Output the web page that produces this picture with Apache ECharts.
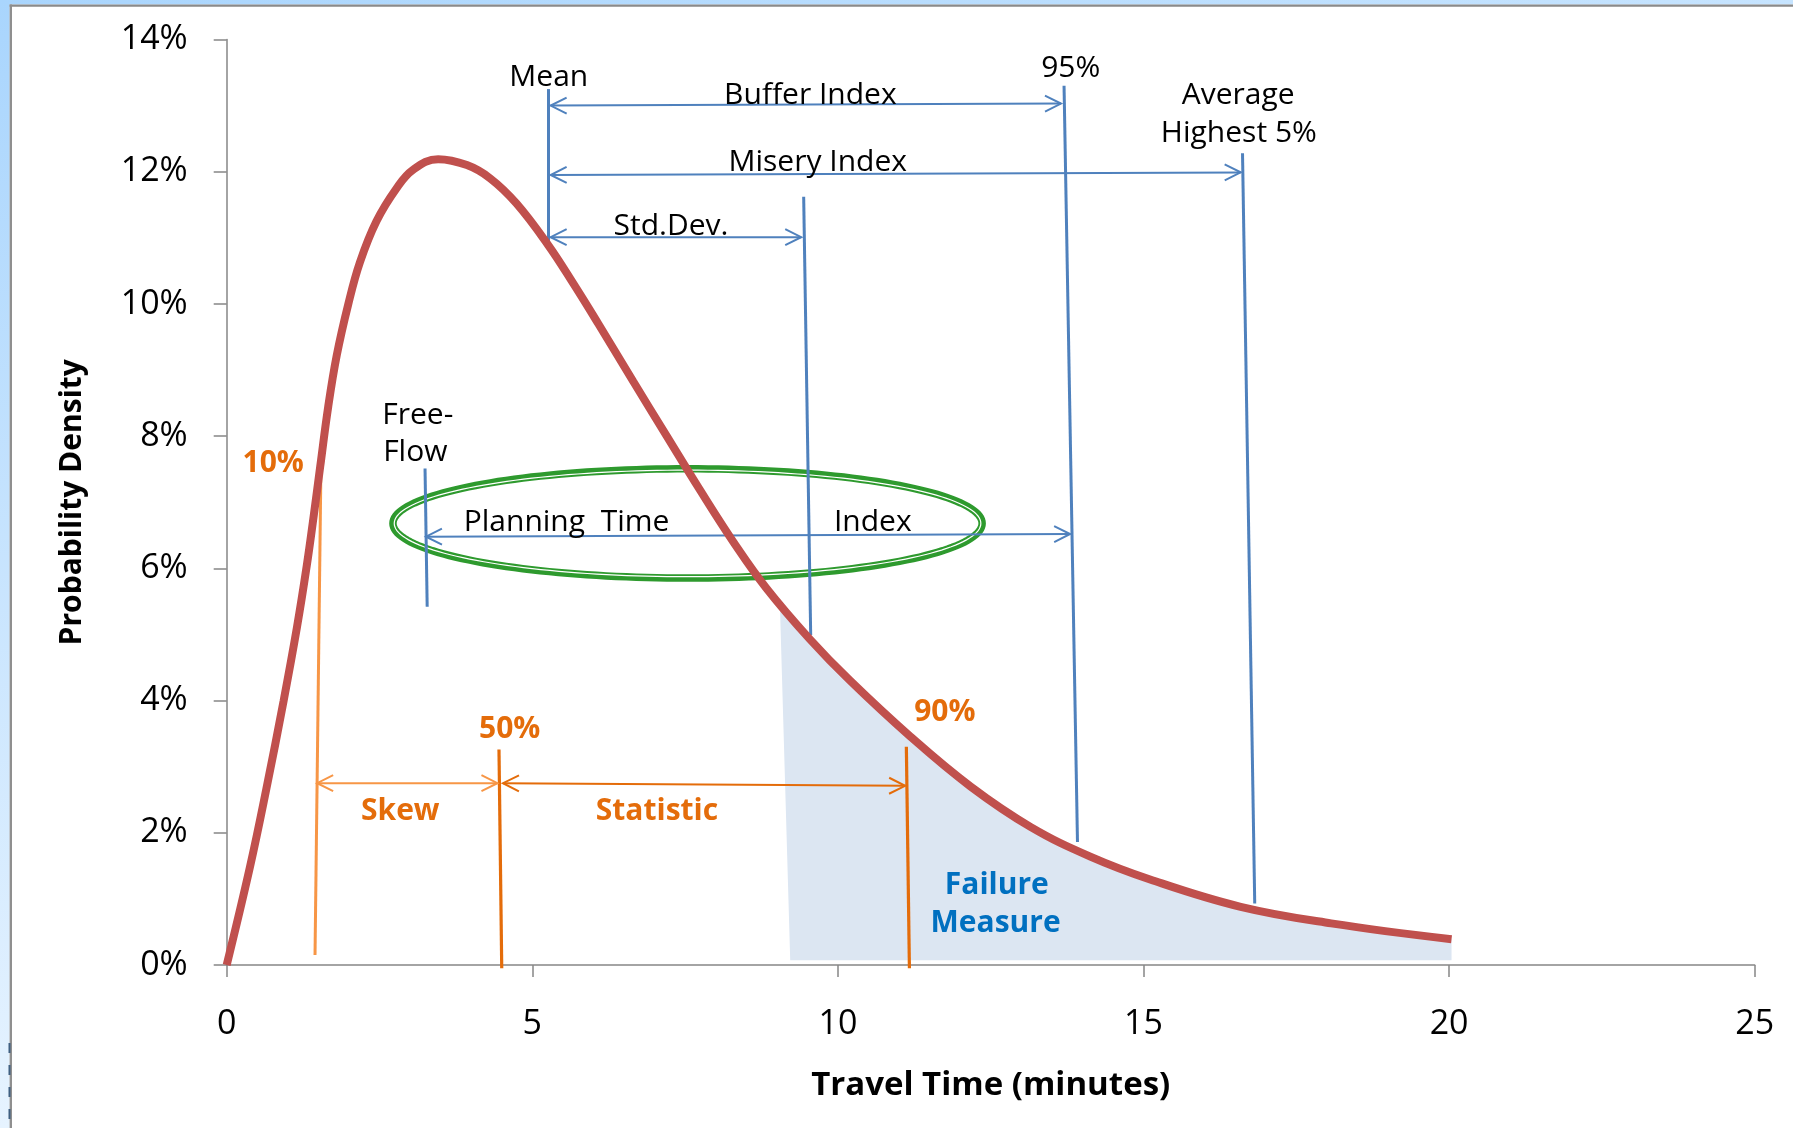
<!DOCTYPE html>
<html>
<head>
<meta charset="utf-8">
<script src="https://cdn.jsdelivr.net/npm/echarts@6/dist/echarts.min.js"></script>
<style>
html, body { margin: 0; padding: 0; background: #fff; }
#chart { width: 1793px; height: 1128px; }
</style>
</head>
<body>
<div id="chart"></div>
<script>
// travel time (minutes) / probability density (%)
const curveX = [0.00, 0.38, 0.65, 0.93, 1.15, 1.31, 1.42, 1.53, 1.66, 1.80, 1.99, 2.18, 2.45, 2.78, 3.05, 3.46,
    3.93, 4.31, 4.74, 5.26, 5.67, 6.08, 6.65, 7.20, 7.74, 8.29, 8.83, 9.54, 10.20, 11.18, 12.17,
    13.15, 14.13, 15.12, 16.59, 18.07, 20.04];
const curveY = [0.00, 1.48, 2.67, 3.99, 5.11, 6.04, 6.77, 7.54, 8.44, 9.22, 10.00, 10.63, 11.25, 11.75, 12.03, 12.19,
    12.10, 11.90, 11.52, 10.89, 10.31, 9.70, 8.83, 8.00, 7.19, 6.40, 5.70, 4.93, 4.30, 3.46, 2.70,
    2.09, 1.64, 1.29, 0.88, 0.63, 0.39];

// failure measure area: top edge along the tail, then the two bottom corners
const failureX = [9.05, 9.54, 10.20, 11.18, 12.17, 13.15, 14.13, 15.12, 16.59, 18.07, 20.04, 20.04, 9.22];
const failureY = [5.48, 4.93, 4.30, 3.46, 2.70, 2.09, 1.64, 1.29, 0.88, 0.63, 0.39, 0.07, 0.07];

// vertical marker lines [x1, y1, x2, y2]
const blueMarkers = [
    [5.265, 13.25, 5.265, 10.82],   // mean
    [9.44, 11.62, 9.555, 4.99],     // std dev
    [13.70, 13.30, 13.92, 1.86],    // 95%
    [16.62, 12.28, 16.82, 0.93],    // average highest 5%
    [3.245, 7.51, 3.28, 5.42]       // free-flow
];
const lightOrangeMarkers = [
    [1.54, 7.41, 1.445, 0.15]       // 10%
];
const orangeMarkers = [
    [4.455, 3.26, 4.50, -0.05],     // 50%
    [11.12, 3.30, 11.17, -0.05]     // 90%
];

// double headed arrows [x1, y1, x2, y2]
const blueArrows = [
    [5.30, 13.00, 13.65, 13.03],    // buffer index
    [5.30, 11.95, 16.59, 11.99],    // misery index
    [5.30, 11.01, 9.40, 11.01],     // std dev
    [3.26, 6.48, 13.80, 6.52]       // planning time index
];
const lightOrangeArrows = [
    [1.48, 2.75, 4.43, 2.75]        // skew
];
const orangeArrows = [
    [4.52, 2.75, 11.10, 2.71]       // statistic
];

// planning time index ellipse [cx, cy, rx, ry]
const planningEllipse = [7.54, 6.68, 4.82, 0.826];

// annotation texts [x, y, text]
const blackLabels = [
    [5.27, 13.43, 'Mean'],
    [9.55, 13.15, 'Buffer Index'],
    [13.81, 13.56, '95%'],
    [16.55, 13.15, 'Average'],
    [16.56, 12.58, 'Highest 5%'],
    [9.67, 12.14, 'Misery Index'],
    [7.27, 11.17, 'Std.Dev.'],
    [3.127, 8.32, 'Free-'],
    [3.086, 7.75, 'Flow'],
    [5.56, 6.69, 'Planning  Time'],
    [10.57, 6.69, 'Index']
];
const orangeLabels = [
    [0.76, 7.59, '10%'],
    [4.63, 3.56, '50%'],
    [11.75, 3.82, '90%'],
    [2.84, 2.33, 'Skew'],
    [7.04, 2.33, 'Statistic']
];
const blueLabels = [
    [12.60, 1.21, 'Failure'],
    [12.58, 0.635, 'Measure']
];

const FONT = '"Open Sans", "Noto Sans", sans-serif';

function segmentSeries(items, color, width, z) {
    return {
        type: 'custom',
        data: items,
        clip: false,
        silent: true,
        z: z,
        encode: { x: [0, 2], y: [1, 3] },
        renderItem: function (params, api) {
            const a = api.coord([api.value(0), api.value(1)]);
            const b = api.coord([api.value(2), api.value(3)]);
            return {
                type: 'line',
                shape: { x1: a[0], y1: a[1], x2: b[0], y2: b[1] },
                style: { stroke: color, lineWidth: width }
            };
        }
    };
}

function arrowSeries(items, color, width, z) {
    return {
        type: 'custom',
        data: items,
        clip: false,
        silent: true,
        z: z,
        encode: { x: [0, 2], y: [1, 3] },
        renderItem: function (params, api) {
            const a = api.coord([api.value(0), api.value(1)]);
            const b = api.coord([api.value(2), api.value(3)]);
            const ang = Math.atan2(b[1] - a[1], b[0] - a[0]);
            const head = function (p, dir) {
                const L = 16, H = 8, c = Math.cos(dir), s = Math.sin(dir);
                return [[p[0] + L * c - H * s, p[1] + L * s + H * c], p, [p[0] + L * c + H * s, p[1] + L * s - H * c]];
            };
            const st = { stroke: color, lineWidth: width, fill: null };
            return {
                type: 'group',
                children: [
                    { type: 'line', shape: { x1: a[0], y1: a[1], x2: b[0], y2: b[1] }, style: st },
                    { type: 'polyline', shape: { points: head(a, ang) }, style: st },
                    { type: 'polyline', shape: { points: head(b, ang + Math.PI) }, style: st }
                ]
            };
        }
    };
}

function labelSeries(items, color, weight, size) {
    return {
        type: 'custom',
        data: items.map(d => [d[0], d[1]]),
        clip: false,
        silent: true,
        z: 10,
        renderItem: function (params, api) {
            const p = api.coord([api.value(0), api.value(1)]);
            return {
                type: 'text',
                x: p[0],
                y: p[1],
                style: {
                    text: items[params.dataIndex][2],
                    fill: color,
                    fontFamily: FONT,
                    fontSize: size,
                    fontWeight: weight,
                    align: 'center',
                    verticalAlign: 'middle'
                }
            };
        }
    };
}

const chart = echarts.init(document.getElementById('chart'));

const option = {
    animation: false,
    backgroundColor: '#ffffff',
    grid: { left: 226.7, right: 38.3, top: 39.5, bottom: 163, outerBoundsMode: 'none' },
    xAxis: {
        type: 'value',
        min: 0,
        max: 25,
        interval: 5,
        name: 'Travel Time (minutes)',
        nameLocation: 'middle',
        nameGap: 104,
        nameTextStyle: { fontFamily: FONT, fontSize: 33, fontWeight: 'bold', color: '#000' },
        axisLine: { show: true, lineStyle: { color: '#868686', width: 1.5 } },
        axisTick: { show: true, length: 12, lineStyle: { color: '#868686', width: 1.5 } },
        axisLabel: { fontFamily: FONT, fontSize: 34, color: '#000', margin: 42 },
        splitLine: { show: false }
    },
    yAxis: {
        type: 'value',
        min: 0,
        max: 14,
        interval: 2,
        name: 'Probability Density',
        nameLocation: 'middle',
        nameGap: 139,
        nameTextStyle: { fontFamily: FONT, fontSize: 30, fontWeight: 'bold', color: '#000' },
        axisLine: { show: true, lineStyle: { color: '#868686', width: 1.5 } },
        axisTick: { show: true, length: 13, lineStyle: { color: '#868686', width: 1.5 } },
        axisLabel: { fontFamily: FONT, fontSize: 34, color: '#000', margin: 39, formatter: '{value}%' },
        splitLine: { show: false }
    },
    graphic: [
        {
            type: 'rect', z: 100, silent: true,
            shape: { x: 0, y: 0, width: 1793, height: 4.5 },
            style: { fill: { type: 'linear', x: 0, y: 0, x2: 1, y2: 0, colorStops: [{ offset: 0, color: '#a9d5fd' }, { offset: 1, color: '#c6e4ff' }] } }
        },
        {
            type: 'rect', z: 100, silent: true,
            shape: { x: 0, y: 0, width: 9.6, height: 1128 },
            style: { fill: { type: 'linear', x: 0, y: 0, x2: 0, y2: 1, colorStops: [{ offset: 0, color: '#a9d5fd' }, { offset: 1, color: '#e6f3ff' }] } }
        },
        { type: 'rect', z: 100, silent: true, shape: { x: 9.6, y: 4.5, width: 1784, height: 2.2 }, style: { fill: '#8a8a8a' } },
        { type: 'rect', z: 100, silent: true, shape: { x: 9.6, y: 4.5, width: 2.4, height: 1124 }, style: { fill: '#8f8f8f' } },
        {
            type: 'line', z: 100, silent: true,
            shape: { x1: 9.5, y1: 1043, x2: 9.5, y2: 1128 },
            style: { stroke: '#3f5f80', lineWidth: 2, lineDash: [10, 12] }
        }
    ],
    series: [
        {
            type: 'custom',
            data: [[failureX[0], failureY[0]]],
            clip: false,
            silent: true,
            z: 1,
            renderItem: function (params, api) {
                const pts = failureX.map((x, i) => api.coord([x, failureY[i]]));
                return { type: 'polygon', shape: { points: pts }, style: { fill: '#dce6f2' } };
            }
        },
        {
            type: 'custom',
            data: [planningEllipse],
            clip: false,
            silent: true,
            z: 2,
            renderItem: function (params, api) {
                const c = api.coord([api.value(0), api.value(1)]);
                const ex = api.coord([api.value(0) + api.value(2), api.value(1)]);
                const ey = api.coord([api.value(0), api.value(1) + api.value(3)]);
                const rx = ex[0] - c[0], ry = c[1] - ey[1];
                const ring = function (ax, ay) {
                    const pts = [];
                    for (let i = 0; i < 180; i++) {
                        const t = i / 180 * Math.PI * 2;
                        pts.push([c[0] + ax * Math.cos(t), c[1] + ay * Math.sin(t)]);
                    }
                    return pts;
                };
                return {
                    type: 'group',
                    children: [
                        { type: 'polygon', shape: { points: ring(rx, ry) }, style: { stroke: '#2e9a2e', lineWidth: 7.5, fill: null } },
                        { type: 'polygon', shape: { points: ring(rx - 1.3, ry - 1.3) }, style: { stroke: '#ffffff', lineWidth: 1.2, fill: null } }
                    ]
                };
            }
        },
        segmentSeries(blueMarkers, '#4f81bd', 3, 3),
        segmentSeries(lightOrangeMarkers, '#f79646', 3, 3),
        segmentSeries(orangeMarkers, '#e46c0a', 3.2, 3),
        arrowSeries(blueArrows, '#4f81bd', 2, 3),
        arrowSeries(lightOrangeArrows, '#f79646', 2, 3),
        arrowSeries(orangeArrows, '#e46c0a', 2, 3),
        {
            type: 'line',
            data: curveX.map((x, i) => [x, curveY[i]]),
            showSymbol: false,
            smooth: 0.4,
            silent: true,
            z: 5,
            lineStyle: { color: '#c0504d', width: 8 }
        },
        labelSeries(blackLabels, '#000000', 'normal', 30),
        labelSeries(orangeLabels, '#e46c0a', 'bold', 30),
        labelSeries(blueLabels, '#0070c0', 'bold', 30)
    ]
};

chart.setOption(option);
</script>
</body>
</html>
